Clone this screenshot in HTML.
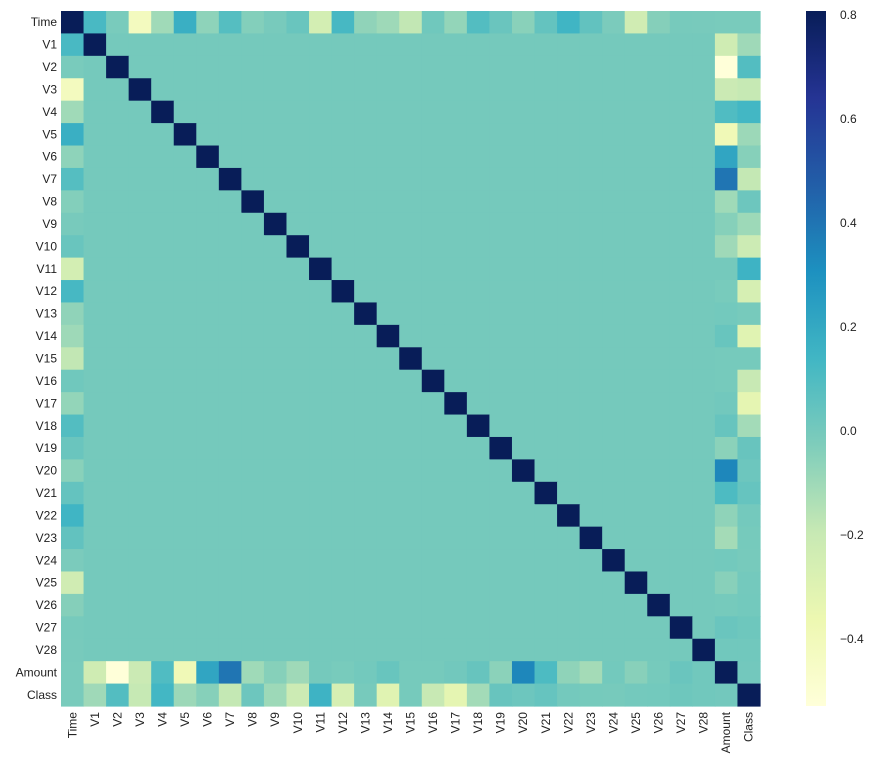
<!DOCTYPE html>
<html><head><meta charset="utf-8">
<style>
html,body{margin:0;padding:0;background:#fff;}
svg{display:block;font-family:"Liberation Sans",Arial,sans-serif;}
</style></head>
<body>
<svg id="chart" width="888" height="775"></svg>
<script>
const labels = ["Time","V1","V2","V3","V4","V5","V6","V7","V8","V9","V10","V11","V12","V13","V14","V15","V16","V17","V18","V19","V20","V21","V22","V23","V24","V25","V26","V27","V28","Amount","Class"];
// correlations of Time with V1..V28, Amount, Class
const timeCorr = [0.117,-0.011,-0.420,-0.105,0.173,-0.063,0.085,-0.037,-0.009,0.031,-0.248,0.124,-0.066,-0.099,-0.183,0.012,-0.073,0.090,0.029,-0.051,0.045,0.144,0.051,-0.016,-0.233,-0.041,-0.005,-0.009,-0.011,-0.012];
// correlations of Amount with V1..V28
const amountCorr = [-0.228,-0.531,-0.211,0.099,-0.386,0.216,0.397,-0.103,-0.044,-0.102,0.000,-0.010,0.005,0.034,-0.003,-0.004,0.007,0.036,-0.056,0.339,0.106,-0.065,-0.113,0.005,-0.048,-0.003,0.029,0.010];
// correlations of Class with V1..V28, Amount
const classCorr = [-0.101,0.091,-0.193,0.133,-0.095,-0.044,-0.187,0.020,-0.098,-0.217,0.155,-0.261,-0.005,-0.303,-0.004,-0.197,-0.326,-0.111,0.035,0.020,0.040,0.001,-0.003,-0.007,0.003,0.004,0.018,0.010,0.006];
const cbTicks = [0.8,0.6,0.4,0.2,0.0,-0.2,-0.4];
const cbTickLabels = ["0.8","0.6","0.4","0.2","0.0","\u22120.2","\u22120.4"];

const vmin=-0.529, vmax=0.808;
const X0=61, Y0=11, W=699, H=695;
const n=labels.length, cw=W/n, ch=H/n;
const xPos=i=>X0+i*cw, yPos=i=>Y0+i*ch;
const CB={x:806,y:11,w:20,h:695};
const cbY=v=>CB.y+(vmax-v)/(vmax-vmin)*CB.h;

const stops=["#ffffd9","#edf8b1","#c7e9b4","#7fcdbb","#41b6c4","#1d91c0","#225ea8","#253494","#081d58"].map(h=>[parseInt(h.slice(1,3),16),parseInt(h.slice(3,5),16),parseInt(h.slice(5,7),16)]);
function color(v){let t=(v-vmin)/(vmax-vmin);t=Math.max(0,Math.min(1,t));const p=t*8,i=Math.min(7,Math.floor(p)),f=p-i;const a=stops[i],b=stops[i+1];return `rgb(${a.map((c,k)=>Math.round(c+(b[k]-c)*f)).join(",")})`;}

const M=[];
for(let i=0;i<n;i++){M.push(new Array(n).fill(0));M[i][i]=1;}
for(let k=0;k<30;k++){M[0][k+1]=M[k+1][0]=timeCorr[k];}
for(let k=0;k<28;k++){M[29][k+1]=M[k+1][29]=amountCorr[k];}
for(let k=0;k<29;k++){M[30][k+1]=M[k+1][30]=classCorr[k];}

const svg=document.getElementById('chart');const NS="http://www.w3.org/2000/svg";
function el(tag,attrs,parent){const e=document.createElementNS(NS,tag);for(const k in attrs)e.setAttribute(k,attrs[k]);(parent||svg).appendChild(e);return e;}

const g=el('g',{});


for(let i=0;i<n;i++)for(let j=0;j<n;j++){
  const r=el('rect',{x:xPos(j),y:yPos(i),width:cw+0.6,height:ch+0.6,fill:color(M[i][j])},g);
  
  
}
for(let i=0;i<n;i++){
  const t=el('text',{x:X0-4,y:yPos(i)+ch/2+4,'text-anchor':'end','font-size':12,fill:'#222'});
  t.textContent=labels[i];
  
  
  const cx=xPos(i)+cw/2+4, cy=Y0+H+6;
  const u=el('text',{x:cx,y:cy,'text-anchor':'end','font-size':12,fill:'#222',transform:`rotate(-90 ${cx} ${cy})`});
  u.textContent=labels[i];
  
  
}
const defs=el('defs',{});
const lg=el('linearGradient',{id:'cbg',x1:0,y1:1,x2:0,y2:0},defs);
for(let s=0;s<=40;s++){const v=vmin+(vmax-vmin)*s/40;el('stop',{offset:s/40,'stop-color':color(v)},lg);}
const cb=el('rect',{x:CB.x,y:CB.y,width:CB.w,height:CB.h,fill:'url(#cbg)'});


cbTicks.forEach((v,i)=>{
  const y=cbY(v);
  const t=el('text',{x:CB.x+CB.w+14,y:y+4,'font-size':12,fill:'#222'});
  t.textContent=cbTickLabels[i];
  
  
});
</script>
</body></html>
